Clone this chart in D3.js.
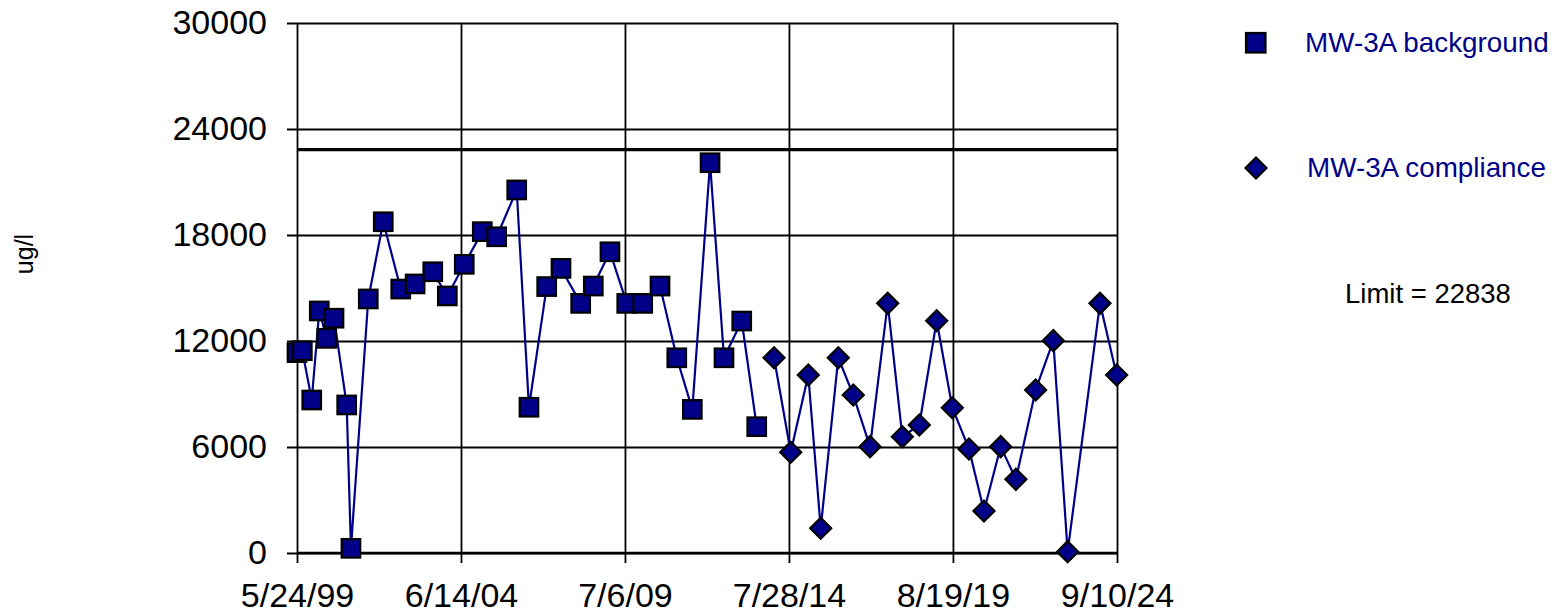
<!DOCTYPE html>
<html>
<head>
<meta charset="utf-8">
<script src="https://cdn.jsdelivr.net/npm/d3@7"></script>
<style>
  html, body { margin: 0; padding: 0; background: #fff; }
  svg { display: block; font-family: Arial, "Liberation Sans", sans-serif; }
</style>
</head>
<body>
<svg id="chart" width="1558" height="613"></svg>
<script>
// ---- data ----
const bgDates = ["1999-05-24","1999-07-23","1999-11-06","2000-01-30","2000-04-23","2000-07-14","2000-12-04","2001-01-21","2001-08-04","2002-01-20","2002-08-05","2003-01-14","2003-08-01","2004-01-12","2004-07-21","2005-02-09","2005-07-21","2006-03-04","2006-07-20","2007-02-05","2007-07-16","2008-02-23","2008-07-14","2009-01-18","2009-07-26","2010-01-22","2010-08-05","2011-02-10","2011-08-04","2012-02-20","2012-07-26","2013-02-11","2013-07-30"];
const bgValues = [11340,11450,8660,13700,12150,13290,8380,265,14380,18750,14940,15230,15920,14550,16340,18190,17900,20550,8250,15080,16110,14130,15110,17050,14130,14130,15110,11050,8130,22090,11050,13130,7150];
const cmpDates = ["2014-02-10","2014-08-17","2015-03-03","2015-07-21","2016-02-04","2016-07-22","2017-01-27","2017-08-14","2018-01-26","2018-08-05","2019-02-17","2019-08-12","2020-02-16","2020-08-03","2021-02-07","2021-07-29","2022-03-08","2022-09-23","2023-03-04","2024-03-02","2024-09-06"];
const cmpValues = [11050,5700,10075,1400,11050,8940,6020,14130,6580,7245,13150,8225,5890,2380,6020,4170,9230,12020,75,14130,10075];
const xTickLabels = ["5/24/99","6/14/04","7/6/09","7/28/14","8/19/19","9/10/24"];
const yTicks = [0,6000,12000,18000,24000,30000];
const limitValue = 22838;
const seriesNames = ["MW-3A background","MW-3A compliance"];
const yTitle = "ug/l";

// ---- layout ----
const svg = d3.select("#chart");
const parse = d3.timeParse("%Y-%m-%d");
const parseTick = d3.timeParse("%m/%d/%y");
const fmt = d3.timeFormat("%-m/%-d/%y");
const xTicks = xTickLabels.map(parseTick);

const L = 297, R = 1117, T = 23, B = 553;
const x = d3.scaleTime().domain([xTicks[0], xTicks[xTicks.length-1]]).range([L, R]);
const y = d3.scaleLinear().domain([0, 30000]).range([B, T]);
const navy = "#000088";

// y gridlines + ticks
const gy = svg.append("g").attr("transform", `translate(${L},0)`)
  .call(d3.axisLeft(y).tickValues(yTicks).tickSize(-(R - L)).tickPadding(30).tickFormat(d3.format("d")));
gy.select(".domain").remove();
gy.selectAll(".tick line").attr("x1", -10).attr("stroke", "#000").attr("stroke-width", 1.8);
gy.selectAll(".tick text").attr("font-size", 34).attr("fill", "#000")
  .attr("font-family", "Arial, 'Liberation Sans', sans-serif");

// x gridlines + ticks
const gx = svg.append("g").attr("transform", `translate(0,${B})`)
  .call(d3.axisBottom(x).tickValues(xTicks).tickSize(-(B - T)).tickPadding(30).tickFormat(fmt));
gx.select(".domain").remove();
gx.selectAll(".tick line").attr("y1", 10).attr("stroke", "#000").attr("stroke-width", 1.8);
gx.selectAll(".tick text").attr("font-size", 34).attr("fill", "#000")
  .attr("font-family", "Arial, 'Liberation Sans', sans-serif");

// zero baseline (slightly heavier)
svg.append("line").attr("x1", x.range()[0]).attr("x2", x.range()[1])
  .attr("y1", y(0)).attr("y2", y(0)).attr("stroke", "#000").attr("stroke-width", 2.4);

// limit line
svg.append("line").attr("x1", x.range()[0]).attr("x2", x.range()[1])
  .attr("y1", y(limitValue)).attr("y2", y(limitValue)).attr("stroke", "#000").attr("stroke-width", 3.2);

// y title
svg.append("text").attr("transform", "translate(33,254) rotate(-90)")
  .attr("text-anchor", "middle").attr("font-size", 25).attr("fill", "#000").text(yTitle);

// series
const bg = bgDates.map((d, i) => ({ d: parse(d), v: bgValues[i] }));
const cmp = cmpDates.map((d, i) => ({ d: parse(d), v: cmpValues[i] }));
const line = d3.line().x(p => x(p.d)).y(p => y(p.v));

svg.append("path").datum(bg).attr("d", line).attr("fill", "none").attr("stroke", navy).attr("stroke-width", 2.2);
svg.append("path").datum(cmp).attr("d", line).attr("fill", "none").attr("stroke", navy).attr("stroke-width", 2.2);

const sq = 18.5;
svg.append("g").selectAll("rect").data(bg).join("rect")
  .attr("x", p => x(p.d) - sq / 2).attr("y", p => y(p.v) - sq / 2)
  .attr("width", sq).attr("height", sq)
  .attr("fill", navy).attr("stroke", "#000").attr("stroke-width", 2.2);

const dh = 10.5;
const diamond = `M0,${-dh}L${dh},0L0,${dh}L${-dh},0Z`;
svg.append("g").selectAll("path").data(cmp).join("path")
  .attr("transform", p => `translate(${x(p.d)},${y(p.v)})`)
  .attr("d", diamond)
  .attr("fill", navy).attr("stroke", "#000").attr("stroke-width", 2.2);

// legend
const lg = svg.append("g");
lg.append("rect").attr("x", 1246).attr("y", 33).attr("width", 19.5).attr("height", 19.5)
  .attr("fill", navy).attr("stroke", "#000").attr("stroke-width", 2.2);
lg.append("text").attr("x", 1305).attr("y", 52).attr("font-size", 27.8).attr("fill", navy).text(seriesNames[0]);
lg.append("path").attr("transform", "translate(1256,168)").attr("d", diamond)
  .attr("fill", navy).attr("stroke", "#000").attr("stroke-width", 2.2);
lg.append("text").attr("x", 1307).attr("y", 177).attr("font-size", 27.8).attr("fill", navy).text(seriesNames[1]);
lg.append("text").attr("x", 1345).attr("y", 303).attr("font-size", 27.5).attr("fill", "#000").text("Limit = " + limitValue);
</script>
</body>
</html>
